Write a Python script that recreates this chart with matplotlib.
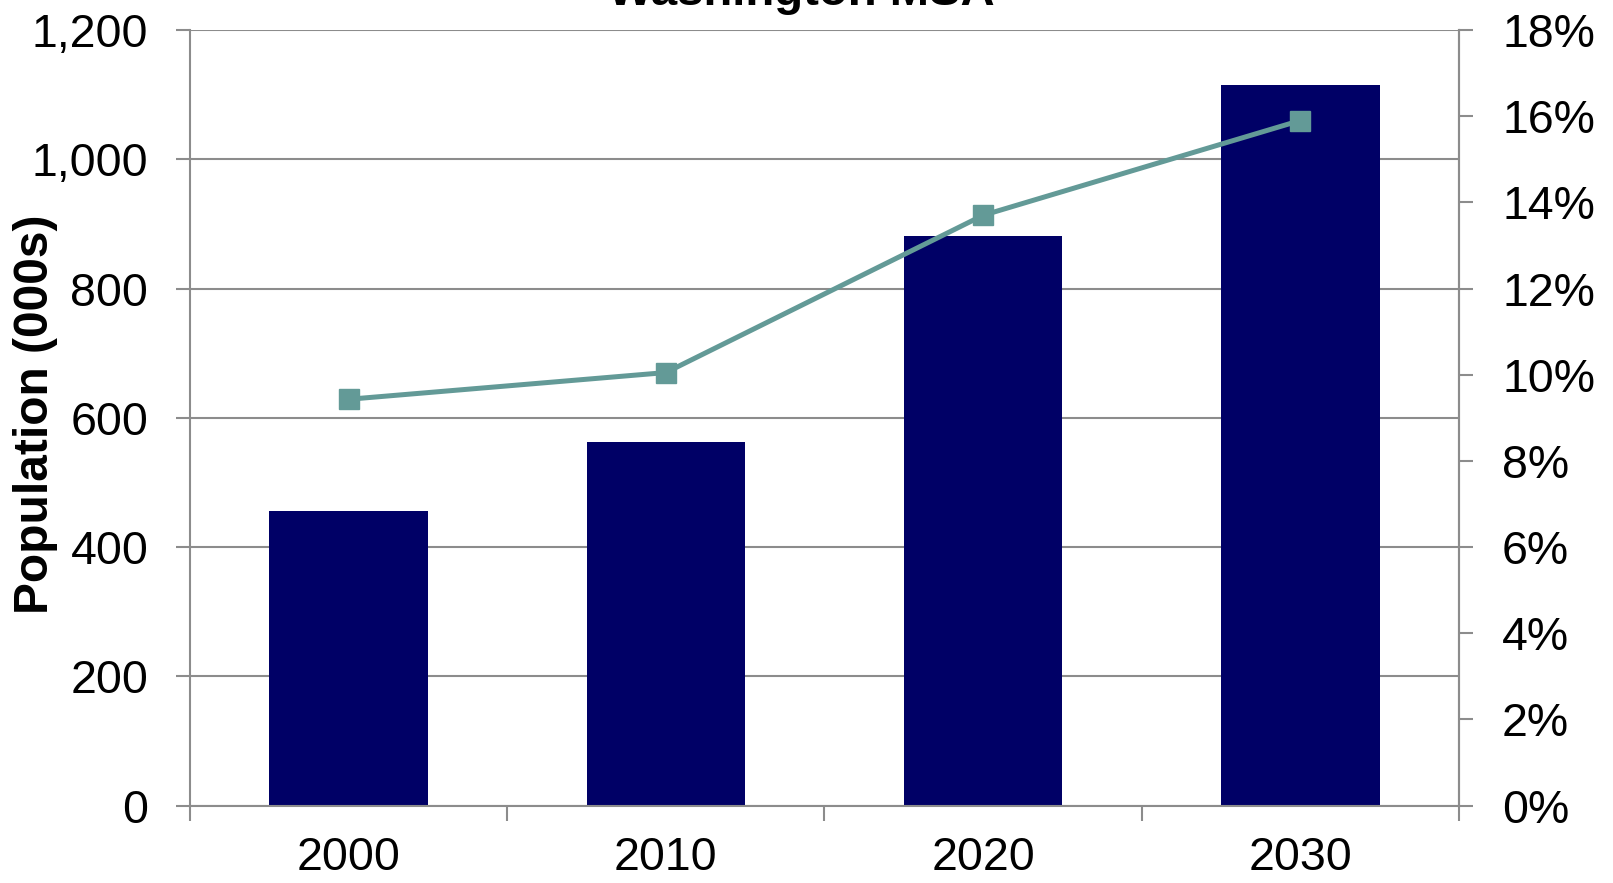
import numpy as np
import matplotlib
matplotlib.use('Agg')
import matplotlib.pyplot as plt
from matplotlib.ticker import FuncFormatter, FixedLocator

# data
years = ['2000', '2010', '2020', '2030']
population = [456, 563, 881, 1115]        # thousands
share_pct = [9.43, 10.05, 13.70, 15.90]   # percent (right axis)

plt.rcParams['font.family'] = ['Liberation Sans', 'DejaVu Sans']

fig = plt.figure(figsize=(16.13, 8.83), dpi=100)
ax = fig.add_axes([0.1178, 0.0877, 0.7867, 0.8783])

grid_c = '#8c8c8c'
x = np.arange(len(years))

ax.bar(x, population, width=0.5, color='#000066', zorder=2)
ax.set_xlim(-0.5, len(years) - 0.5)
ax.set_ylim(0, 1200)
ax.set_yticks(np.arange(0, 1201, 200))
ax.yaxis.set_major_formatter(FuncFormatter(lambda v, p: '{:,.0f}'.format(v)))
ax.grid(axis='y', color=grid_c, linewidth=1.5, zorder=0)
ax.set_axisbelow(True)

ax.set_xticks(x)
ax.set_xticklabels(years)
ax.xaxis.set_minor_locator(FixedLocator(np.arange(-0.5, len(years), 1.0)))
ax.tick_params(axis='x', which='major', length=0, pad=22, labelsize=33.5)
ax.tick_params(axis='x', which='minor', length=11, width=1.5, color=grid_c, direction='out')
ax.tick_params(axis='y', length=10, width=1.5, color=grid_c, direction='out', pad=20, labelsize=33.5)

for s in ['left', 'bottom', 'right']:
    ax.spines[s].set_color(grid_c)
    ax.spines[s].set_linewidth(1.5)
ax.spines['top'].set_visible(False)

# y label placed by hand so it sits at the left edge like the reference
fig.text(36 / 1613, 1 - 414 / 883, 'Population (000s)', fontsize=34.5,
         fontweight='bold', rotation=90, ha='center', va='center')

ax2 = ax.twinx()
ax2.plot(x, share_pct, color='#639a97', linewidth=3.6, marker='s', markersize=14,
         zorder=3)
ax2.set_ylim(0, 18)
ax2.set_yticks(np.arange(0, 19, 2))
ax2.yaxis.set_major_formatter(FuncFormatter(lambda v, p: '{:.0f}%'.format(v)))
ax2.tick_params(axis='y', length=10, width=1.5, color=grid_c, direction='out', pad=21, labelsize=33.5)
for s in ['left', 'bottom', 'top']:
    ax2.spines[s].set_visible(False)
ax2.spines['right'].set_color(grid_c)
ax2.spines['right'].set_linewidth(1.5)

fig.text(0.497, 1 - 5 / 883, 'Washington MSA', fontsize=34, fontweight='bold',
         ha='center', va='baseline')

fig.savefig('out.png', dpi=100)
